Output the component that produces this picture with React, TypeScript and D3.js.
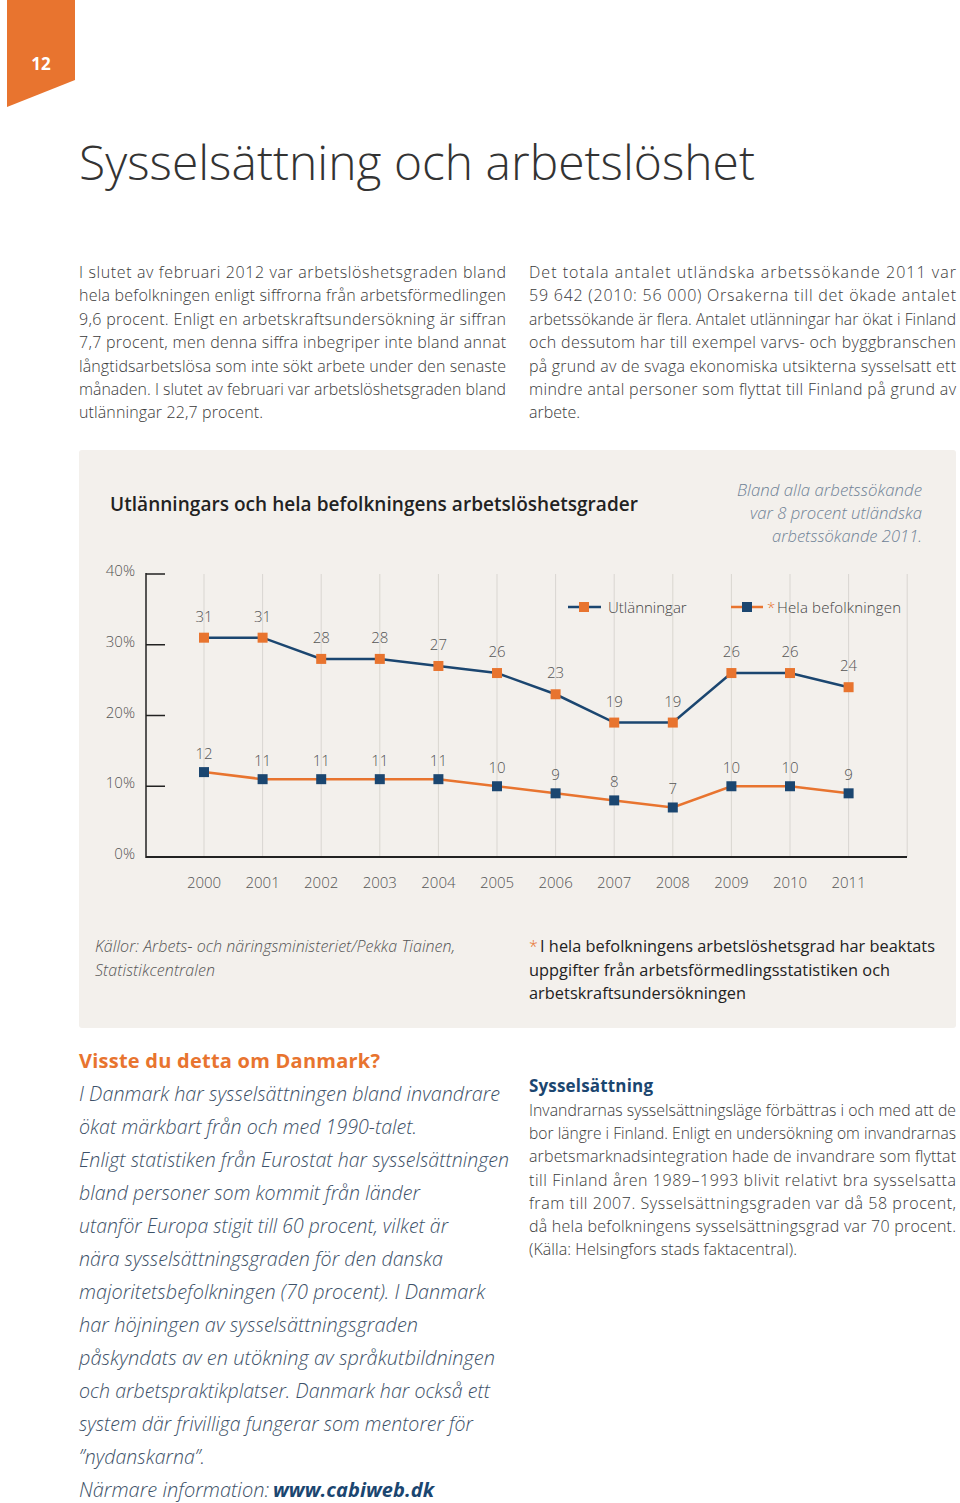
import React from "react";
import * as d3 from "d3";

const years = ["2000","2001","2002","2003","2004","2005","2006","2007","2008","2009","2010","2011"];
const foreigners = [31,31,28,28,27,26,23,19,19,26,26,24];
const wholePop = [12,11,11,11,11,10,9,8,7,10,10,9];
const yTicks = [0,10,20,30,40];

const seriesNames = ["Utlänningar", "Hela befolkningen"];

const introLeft = [
  "I slutet av februari 2012 var arbetslöshetsgraden bland",
  "hela befolkningen enligt siffrorna från arbetsförmedlingen",
  "9,6 procent. Enligt en arbetskraftsundersökning är siffran",
  "7,7 procent, men denna siffra inbegriper inte bland annat",
  "långtidsarbetslösa som inte sökt arbete under den senaste",
  "månaden. I slutet av februari var arbetslöshetsgraden bland",
  "utlänningar 22,7 procent.",
];
const introRight = [
  "Det totala antalet utländska arbetssökande 2011 var",
  "59 642 (2010: 56 000) Orsakerna till det ökade antalet",
  "arbetssökande är flera. Antalet utlänningar har ökat i Finland",
  "och dessutom har till exempel varvs- och byggbranschen",
  "på grund av de svaga ekonomiska utsikterna sysselsatt ett",
  "mindre antal personer som flyttat till Finland på grund av",
  "arbete.",
];
const noteLines = ["Bland alla arbetssökande", "var 8 procent utländska", "arbetssökande 2011."];
const sourceLines = ["Källor: Arbets- och näringsministeriet/Pekka Tiainen,", "Statistikcentralen"];
const footLines = ["I hela befolkningens arbetslöshetsgrad har beaktats", "uppgifter från arbetsförmedlingsstatistiken och", "arbetskraftsundersökningen"];
const danmarkLines = [
  "I Danmark har sysselsättningen bland invandrare",
  "ökat märkbart från och med 1990-talet.",
  "Enligt statistiken från Eurostat har sysselsättningen",
  "bland personer som kommit från länder",
  "utanför Europa stigit till 60 procent, vilket är",
  "nära sysselsättningsgraden för den danska",
  "majoritetsbefolkningen (70 procent). I Danmark",
  "har höjningen av sysselsättningsgraden",
  "påskyndats av en utökning av språkutbildningen",
  "och arbetspraktikplatser. Danmark har också ett",
  "system där frivilliga fungerar som mentorer för",
  "”nydanskarna”.",
];
const danmarkWidths = [421, 338, 430, 341, 369, 364, 406, 339, 416, 411, 394, 126];
const sysLines = [
  "Invandrarnas sysselsättningsläge förbättras i och med att de",
  "bor längre i Finland. Enligt en undersökning om invandrarnas",
  "arbetsmarknadsintegration hade de invandrare som flyttat",
  "till Finland åren 1989–1993 blivit relativt bra sysselsatta",
  "fram till 2007. Sysselsättningsgraden var då 58 procent,",
  "då hela befolkningens sysselsättningsgrad var 70 procent.",
  "(Källa: Helsingfors stads faktacentral).",
];

const FONT = "'Open Sans', 'Noto Sans', sans-serif";
const ORANGE = "#E8742F";
const NAVY = "#1B4670";
const BG = "#F3F0EC";

let _ctx: CanvasRenderingContext2D | null = null;
function measure(text: string, size: number, weight: any, style: string) {
  if (!_ctx) _ctx = document.createElement("canvas").getContext("2d");
  if (!_ctx) return text.length * size * 0.5;
  _ctx.font = `${style || "normal"} ${weight || 400} ${size}px ${FONT}`;
  return _ctx.measureText(text).width;
}

function TL(props: any) {
  const { x, y, w, children, anchor, fontSize, fontWeight, fontStyle, ...rest } = props;
  let size = fontSize;
  if (w) {
    const nat = measure(String(children), fontSize, fontWeight, fontStyle);
    if (nat > w) size = (fontSize * w) / nat - 0.05;
  }
  return (
    <text
      x={x}
      y={y}
      textAnchor={anchor || "start"}
      textLength={w}
      lengthAdjust={w ? "spacing" : undefined}
      fontFamily={FONT}
      fontSize={size}
      fontWeight={fontWeight}
      fontStyle={fontStyle}
      {...rest}
    >
      {children}
    </text>
  );
}

export default function App() {
  const x = d3.scaleLinear().domain([0, 12]).range([204, 907.2]);
  const y = d3.scaleLinear().domain([0, 40]).range([857, 574]);
  const line = d3
    .line<number>()
    .x((_, i) => x(i))
    .y((d) => y(d));

  const colW = 427;
  return (
    <svg
      width={960}
      height={1503}
      style={{ position: "absolute", left: 0, top: 0, background: "#fff" }}
    >
      {/* page tab */}
      <polygon points="7,0 75,0 75,80 7,107" fill={ORANGE} />
      <text x={41} y={70} textAnchor="middle" fontFamily={FONT} fontWeight={700} fontSize={17} fill="#fff">12</text>

      {/* page title */}
      <TL x={79} y={180} w={676} fontSize={50} fontWeight={300} fill="#333">Sysselsättning och arbetslöshet</TL>

      {/* intro paragraphs */}
      {introLeft.map((t, i) => (
        <TL key={"l" + i} x={79} y={278 + i * 23.4} w={i < introLeft.length - 1 ? colW : 184} fontSize={16} fontWeight={300} fill="#3a3a3a">{t}</TL>
      ))}
      {introRight.map((t, i) => (
        <TL key={"r" + i} x={529} y={278 + i * 23.4} w={i < introRight.length - 1 ? colW : 51} fontSize={16} fontWeight={300} fill="#3a3a3a">{t}</TL>
      ))}

      {/* chart panel */}
      <rect x={79} y={450} width={877} height={578} rx={3} fill={BG} />
      <TL x={110} y={511} w={528} fontSize={19} fontWeight={600} fill="#222">Utlänningars och hela befolkningens arbetslöshetsgrader</TL>
      {noteLines.map((t, i) => (
        <TL key={"n" + i} x={922} y={496 + i * 23.2} anchor="end" w={[185, 172, 150][i]} fontSize={17} fontStyle="italic" fontWeight={300} fill="#6F8296">{t}</TL>
      ))}

      {/* grid lines */}
      {d3.range(13).map((i) => (
        <line key={"g" + i} x1={x(i)} x2={x(i)} y1={y(40)} y2={y(0)} stroke="#D9D6D1" strokeWidth={1} />
      ))}

      {/* y axis */}
      <line x1={146} x2={146} y1={y(40) - 1} y2={y(0) + 1} stroke="#222" strokeWidth={1.5} />
      {yTicks.map((t) => (
        <g key={"yt" + t}>
          {t > 0 && <line x1={146} x2={165} y1={y(t)} y2={y(t)} stroke="#222" strokeWidth={1.5} />}
          <TL x={135} y={y(t) + 2} anchor="end" fontSize={15} fontWeight={300} fill="#555">{t + "%"}</TL>
        </g>
      ))}
      {/* x axis */}
      <line x1={146} x2={907} y1={y(0)} y2={y(0)} stroke="#222" strokeWidth={2} />
      {years.map((yr, i) => (
        <TL key={"x" + i} x={x(i)} y={888} anchor="middle" fontSize={15} fontWeight={300} fill="#555">{yr}</TL>
      ))}

      {/* foreigners series */}
      <path d={line(foreigners) || ""} fill="none" stroke={NAVY} strokeWidth={2.5} />
      {foreigners.map((v, i) => (
        <g key={"f" + i}>
          <rect x={x(i) - 5} y={y(v) - 5} width={10} height={10} fill={ORANGE} />
          <TL x={x(i)} y={y(v) - 16} anchor="middle" fontSize={15} fontWeight={300} fill="#555">{v}</TL>
        </g>
      ))}

      {/* whole population series */}
      <path d={line(wholePop) || ""} fill="none" stroke={ORANGE} strokeWidth={2.5} />
      {wholePop.map((v, i) => (
        <g key={"w" + i}>
          <rect x={x(i) - 5} y={y(v) - 5} width={10} height={10} fill={NAVY} />
          <TL x={x(i)} y={y(v) - 13} anchor="middle" fontSize={15} fontWeight={300} fill="#555">{v}</TL>
        </g>
      ))}

      {/* legend */}
      <line x1={568} x2={601} y1={607} y2={607} stroke={NAVY} strokeWidth={2.5} />
      <rect x={579} y={602} width={10} height={10} fill={ORANGE} />
      <TL x={608} y={613} fontSize={15} fontWeight={300} fill="#444">{seriesNames[0]}</TL>
      <line x1={731} x2={763} y1={607} y2={607} stroke={ORANGE} strokeWidth={2.5} />
      <rect x={742} y={602} width={10} height={10} fill={NAVY} />
      <TL x={767} y={613} fontSize={15} fontWeight={300} fill={ORANGE}>*</TL>
      <TL x={777} y={613} w={124} fontSize={15} fontWeight={300} fill="#444">{seriesNames[1]}</TL>

      {/* sources */}
      {sourceLines.map((t, i) => (
        <TL key={"s" + i} x={95} y={952 + i * 23.5} w={[360, 120][i]} fontSize={16} fontStyle="italic" fontWeight={300} fill="#555">{t}</TL>
      ))}
      <TL x={529} y={952} fontSize={16} fill={ORANGE} fontWeight={300}>*</TL>
      {footLines.map((t, i) => (
        <TL key={"fn" + i} x={i === 0 ? 540 : 529} y={952 + i * 23.5} w={[395, 361, 217][i]} fontSize={16.5} fill="#222">{t}</TL>
      ))}

      {/* Danmark box */}
      <TL x={79} y={1068} w={301} fontSize={20} fontWeight={700} fill={ORANGE}>Visste du detta om Danmark?</TL>
      {danmarkLines.map((t, i) => (
        <TL key={"d" + i} x={79} y={1101 + i * 33} w={danmarkWidths[i]} fontSize={20} fontStyle="italic" fontWeight={300} fill="#3D5168">{t}</TL>
      ))}
      <TL x={79} y={1101 + 12 * 33} w={190} fontSize={20} fontStyle="italic" fontWeight={300} fill="#3D5168">Närmare information:</TL>
      <TL x={273} y={1101 + 12 * 33} w={161} fontSize={20} fontStyle="italic" fontWeight={700} fill={NAVY}>www.cabiweb.dk</TL>

      {/* Sysselsättning */}
      <TL x={529} y={1092} w={124} fontSize={17} fontWeight={700} fill={NAVY}>Sysselsättning</TL>
      {sysLines.map((t, i) => (
        <TL key={"sy" + i} x={529} y={1116 + i * 23.2} w={i < sysLines.length - 1 ? colW : 268} fontSize={16} fontWeight={300} fill="#3a3a3a">{t}</TL>
      ))}
    </svg>
  );
}
